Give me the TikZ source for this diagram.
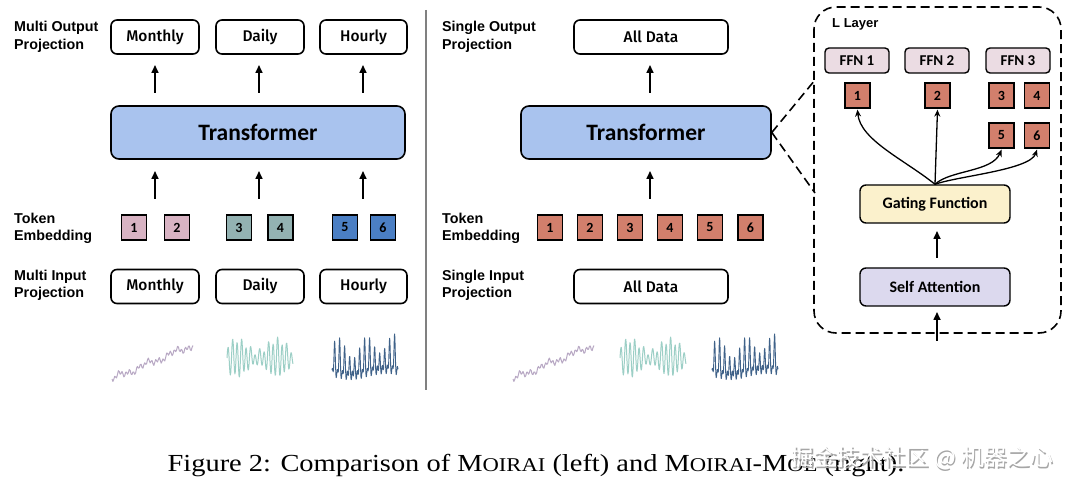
\documentclass[tikz,border=0pt]{standalone}
\usepackage{fontspec}
\setmainfont{Liberation Serif}
\newfontfamily\arialfont{Liberation Sans}
\newfontfamily\calfont{Carlito}
\newfontfamily\boxfont{Fira Sans}[UprightFont={* Medium}]
\newfontfamily\cjkfont{Noto Sans CJK SC}
\usetikzlibrary{arrows.meta}
\definecolor{tfblue}{HTML}{A9C3EE}
\definecolor{tokpink}{HTML}{D8B3C3}
\definecolor{tokteal}{HTML}{93B2B2}
\definecolor{tokblue}{HTML}{4B7FC4}
\definecolor{toksalmon}{HTML}{D27F6C}
\definecolor{ffnfill}{HTML}{EBDCE3}
\definecolor{gatefill}{HTML}{FBF1CC}
\definecolor{safill}{HTML}{DCD9EE}
\definecolor{sparkm}{HTML}{B8A8C4}
\definecolor{sparkd}{HTML}{9CCFC6}
\definecolor{sparkh}{HTML}{3F6289}
\newcommand\fakesc[2]{#1{\fontsize{19.5}{19.5}\selectfont #2}}
\tikzset{
  rbox/.style={draw, line width=1.6pt, rounded corners=6pt, minimum height=34pt, inner sep=0pt, font=\boxfont\fontsize{15.5}{15.5}\selectfont},
  tfbox/.style={draw, line width=1.6pt, rounded corners=8pt, fill=tfblue, minimum height=53pt, inner sep=0pt, font=\calfont\bfseries\fontsize{23.5}{23.5}\selectfont},
  tok/.style={draw, line width=1.3pt, minimum width=25pt, minimum height=25pt, inner sep=0pt, font=\calfont\bfseries\fontsize{14}{14}\selectfont},
  lbl/.style={anchor=west, align=left, inner sep=0pt, font=\arialfont\bfseries\fontsize{14.3}{17.5}\selectfont},
  upar/.style={line width=1.6pt, -{Triangle[length=8pt,width=7pt]}},
  ffn/.style={draw, line width=1.4pt, rounded corners=4pt, fill=ffnfill, minimum width=64pt, minimum height=25pt, inner sep=0pt, font=\calfont\bfseries\fontsize{15}{15}\selectfont},
  lbox/.style={draw, line width=1.4pt, rounded corners=6pt, minimum width=150pt, minimum height=38pt, inner sep=0pt, font=\calfont\bfseries\fontsize{16}{16}\selectfont},
  curvar/.style={line width=1.3pt, -{Stealth[length=7pt,width=6pt]}},
  dashl/.style={line width=1.6pt, dash pattern=on 9pt off 5pt},
}
\begin{document}
\begin{tikzpicture}[x=1pt,y=-1pt]
\fill[white] (0,0) rectangle (1080,489);
\useasboundingbox (0,0) rectangle (1080,489);

% ---------------- LEFT ----------------
\node[lbl] (lmo) at (14,37) {Multi Output\\Projection};
\node[rbox, minimum width=88pt] (om) at (155,37) {Monthly};
\node[rbox, minimum width=88pt] (od) at (260,37) {Daily};
\node[rbox, minimum width=87pt] (oh) at (363.5,37) {Hourly};

\node[tfbox, minimum width=294pt] (tl) at (258,132.5) {Transformer};

\node[lbl] (lte) at (14,228.5) {Token\\Embedding};
\node[tok, fill=tokpink] (l1) at (134,227.5) {1};
\node[tok, fill=tokpink] (l2) at (177,227.5) {2};
\node[tok, fill=tokteal] (l3) at (239,227.5) {3};
\node[tok, fill=tokteal] (l4) at (280.5,227.5) {4};
\node[tok, fill=tokblue] (l5) at (345,227.5) {5};
\node[tok, fill=tokblue] (l6) at (383,227.5) {6};

\node[lbl] (lmi) at (14,285.5) {Multi Input\\Projection};
\node[rbox, minimum width=88pt] (im) at (155,286.5) {Monthly};
\node[rbox, minimum width=88pt] (id) at (260,286.5) {Daily};
\node[rbox, minimum width=87pt] (ih) at (363.5,286.5) {Hourly};

\foreach \xx/\nm in {155/a,259/b,363/c}{
  \coordinate (ua\nm) at (\xx,93);
  \coordinate (va\nm) at (\xx,65);
  \coordinate (ub\nm) at (\xx,199);
  \coordinate (vb\nm) at (\xx,171);
  \draw[upar] (ua\nm) -- (va\nm);
  \draw[upar] (ub\nm) -- (vb\nm);
}

% sparklines (parameter t measured from the left end)
\newcommand\sparkM{\draw[sparkm, line width=1pt, line join=round] plot[variable=\t, domain=0:81, samples=90] ({112+\t},{379 - 0.42*\t + 2.2*sin(\t*97) + 1.8*sin(\t*37) - 2*sin(\t*13)});}
\newcommand\sparkD{\draw[sparkd, line width=1pt, line join=round] plot[variable=\t, domain=0:66, samples=160] ({227+\t},{358 - (12+6*sin(\t*9))*sin(\t*80) + 3*sin(\t*41)});}
\newcommand\sparkH{\draw[sparkh, line width=0.9pt, line join=round] plot[variable=\t, domain=0:66, samples=220] ({332+\t},{377 - (24+10*sin(\t*13))*pow(abs(sin(\t*36)),6) - 9*pow(abs(sin(\t*72+60)),2) + 3*sin(\t*5)});}
\sparkM \sparkD \sparkH

% divider
\coordinate (dv1) at (426,10);
\coordinate (dv2) at (426,390);
\draw[gray, line width=1.5pt] (dv1) -- (dv2);

% ---------------- RIGHT ----------------
\node[lbl] (rso) at (442,37) {Single Output\\Projection};
\node[rbox, minimum width=154pt] (oall) at (651,37) {All Data};
\node[tfbox, minimum width=250pt] (tr) at (646,132.5) {Transformer};
\node[lbl] (rte) at (442,228.5) {Token\\Embedding};
\foreach \i/\xx in {1/550,2/590,3/630,4/670,5/710,6/750.5}{
  \node[tok, fill=toksalmon] (r\i) at (\xx,227.5) {\i};
}
\node[lbl] (rsi) at (442,285.5) {Single Input\\Projection};
\node[rbox, minimum width=154pt] (iall) at (651,286.5) {All Data};

\coordinate (ur1) at (650,93);
\coordinate (vr1) at (650,65);
\coordinate (ur2) at (650,199);
\coordinate (vr2) at (650,171);
\draw[upar] (ur1) -- (vr1);
\draw[upar] (ur2) -- (vr2);

\begin{scope}[xshift=401pt]\sparkM\end{scope}
\begin{scope}[xshift=393pt]\sparkD\end{scope}
\begin{scope}[xshift=380pt]\sparkH\end{scope}

% ---------------- L LAYER ----------------
\draw[dashl, rounded corners=22pt] (814,7) rectangle (1061,333);
\node[anchor=west, inner sep=0pt, font=\arialfont\bfseries\fontsize{13}{13}\selectfont] (ll) at (832,24) {L Layer};
\coordinate (zu) at (815,80);
\coordinate (zd) at (815,193);
\draw[dashl] (tr.east) -- (zu);
\draw[dashl] (tr.east) -- (zd);

\node[ffn] (f1) at (857,60.5) {FFN 1};
\node[ffn] (f2) at (937,60.5) {FFN 2};
\node[ffn] (f3) at (1018,60.5) {FFN 3};

\node[tok, fill=toksalmon] (e1) at (857.5,95.5) {1};
\node[tok, fill=toksalmon] (e2) at (937.5,95.5) {2};
\node[tok, fill=toksalmon] (e3) at (1001.5,95.5) {3};
\node[tok, fill=toksalmon] (e4) at (1037,95.5) {4};
\node[tok, fill=toksalmon] (e5) at (1001.5,135.5) {5};
\node[tok, fill=toksalmon] (e6) at (1037,135.5) {6};

\node[lbox, fill=gatefill] (g) at (935,204) {Gating Function};
\node[lbox, fill=safill] (sa) at (935,287) {Self Attention};

\draw[curvar] (g.north) .. controls (905,160) and (860,140) .. ([yshift=-1pt]e1.south);
\draw[curvar] (g.north) -- ([yshift=-1pt]e2.south);
\draw[curvar] (g.north) .. controls (950,170) and (992,172) .. ([yshift=-1pt]e5.south);
\draw[curvar] (g.north) .. controls (958,176) and (1030,170) .. ([yshift=-1pt]e6.south);

\coordinate (sg1) at (937,258);
\coordinate (sg2) at (937,231);
\draw[upar] (sg1) -- (sg2);
\coordinate (sb1) at (937,341);
\coordinate (sb2) at (937,312);
\draw[upar] (sb1) -- (sb2);

% ---------------- CAPTION ----------------
\node[inner sep=0pt, font=\fontsize{24.5}{25}\selectfont] (cap) at (536,465.5)
  {\scalebox{1.16}[1]{Figure 2: Comparison of \fakesc{M}{OIRAI} (left) and \fakesc{M}{OIRAI}-\fakesc{M}{OE} (right).}};
\node[inner sep=0pt, text=gray!70, font=\cjkfont\fontsize{23}{23}\selectfont] (wm0) at (923.5,459.5) {掘金技术社区 @ 机器之心};
\node[inner sep=0pt, text=white, font=\cjkfont\fontsize{23}{23}\selectfont] (wm) at (922,458) {掘金技术社区 @ 机器之心};
\end{tikzpicture}
\end{document}
